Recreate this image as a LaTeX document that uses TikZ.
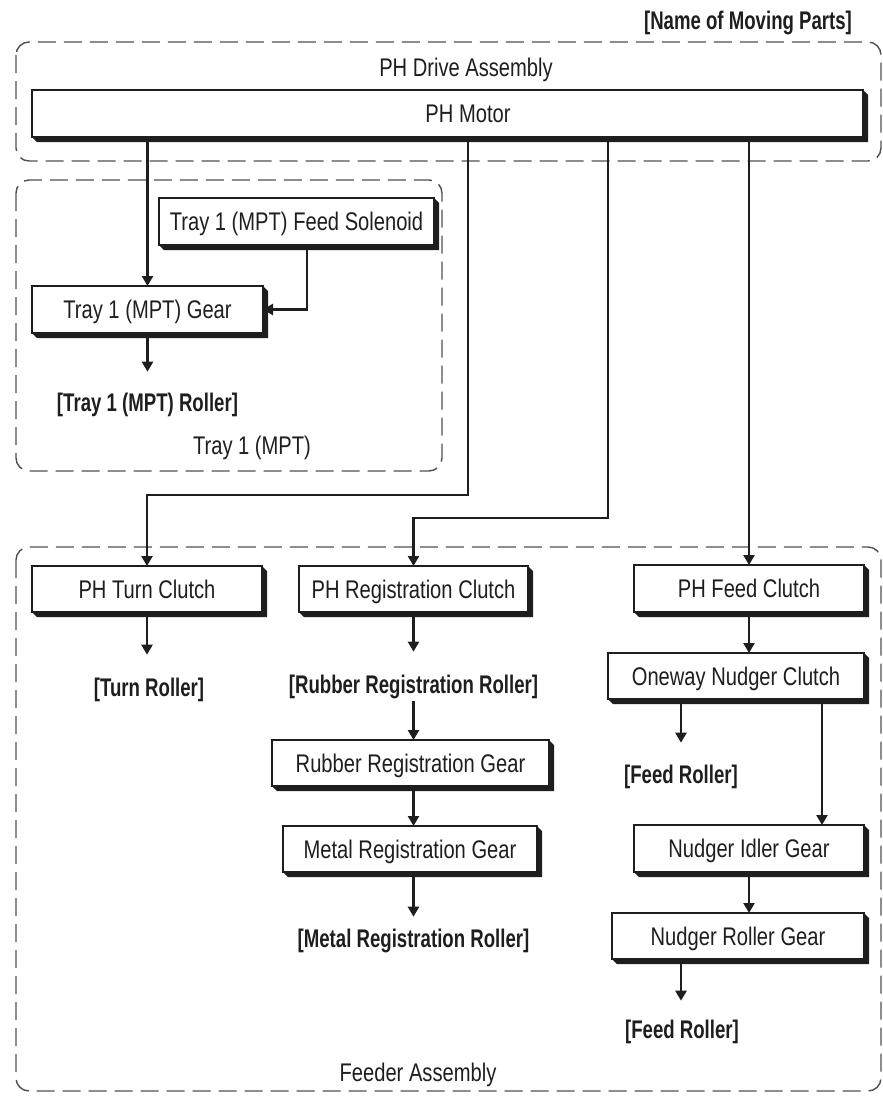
\documentclass[tikz,border=0pt]{standalone}
\usepackage{fontspec}
\setmainfont{Liberation Sans}[FakeStretch=0.79]
\newfontfamily\labelfont{Liberation Sans}[FakeStretch=0.73]
\usetikzlibrary{arrows.meta}

\definecolor{ink}{HTML}{1E1E1E}
\definecolor{dashgrey}{HTML}{505050}

\begin{document}
\begin{tikzpicture}[x=1pt,y=-1pt,
  every node/.style={text=ink},
  txt/.style={font=\fontsize{25.5}{30}\selectfont, inner sep=0pt, text height=18.2pt, text depth=0pt},
  part/.style={txt, draw=ink, line width=1.4pt, fill=white, outer sep=0pt},
  lbl/.style={font=\labelfont\bfseries\fontsize{25.5}{30}\selectfont, inner sep=0pt, text height=18.2pt, text depth=0pt},
  assembly/.style={draw=dashgrey, line width=1.4pt, dash pattern=on 18pt off 8pt, rounded corners=13pt},
  conn/.style={draw=ink, line width=2.4pt, -{Triangle[length=10pt,width=11pt]}},
]
\useasboundingbox (0,0) rectangle (883,1098);

% heading
\node[lbl] (title) at (748,20) {[Name of Moving Parts]};

% drive assembly
\node[txt] (drivelbl) at (466,67) {PH Drive Assembly};
\node[part, minimum width=831pt, minimum height=47pt] (motor) at (447.5,113.5) {\hspace*{41pt}PH Motor};

% tray 1 (MPT)
\node[part, minimum width=275pt, minimum height=47pt] (sol) at (296.5,221.5) {Tray 1 (MPT) Feed Solenoid};
\node[part, minimum width=231pt, minimum height=47pt] (gear) at (147.5,309.5) {Tray 1 (MPT) Gear};
\node[lbl] (l1) at (147.5,402) {[Tray 1 (MPT) Roller]};
\node[txt] (traylbl) at (252,445) {Tray 1 (MPT)};

% feeder assembly
\node[part, minimum width=230pt, minimum height=46pt] (turn) at (147,589) {PH Turn Clutch};
\node[part, minimum width=229pt, minimum height=46pt] (reg) at (413.5,589) {PH Registration Clutch};
\node[part, minimum width=230pt, minimum height=47pt] (feed) at (749,588.5) {PH Feed Clutch};
\node[part, minimum width=256pt, minimum height=46pt] (oneway) at (736,676) {Oneway Nudger Clutch};
\node[part, minimum width=277pt, minimum height=46pt] (rubgear) at (410.5,763) {Rubber Registration Gear};
\node[part, minimum width=254pt, minimum height=46pt] (metgear) at (410,849) {Metal Registration Gear};
\node[part, minimum width=230pt, minimum height=47pt] (idler) at (749,848.5) {Nudger Idler Gear};
\node[part, minimum width=252pt, minimum height=46pt] (nrg) at (738,936) {Nudger Roller Gear};

\node[lbl] (l2) at (149,687) {[Turn Roller]};
\node[lbl] (l3) at (413.5,684) {[Rubber Registration Roller]};
\node[lbl] (l4) at (413.5,938) {[Metal Registration Roller]};
\node[lbl] (l5) at (681,774) {[Feed Roller]};
\node[lbl] (l6) at (682,1029) {[Feed Roller]};
\node[txt] (feederlbl) at (418,1072) {Feeder Assembly};

% bevelled drop shadows of the part boxes
\foreach \n in {motor,sol,gear,turn,reg,feed,oneway,rubgear,metgear,idler,nrg}{
  \fill[ink] (\n.north east) -- ([shift={(5,5)}]\n.north east)
    -- ([shift={(5,5)}]\n.south east) -- ([shift={(5,5)}]\n.south west)
    -- (\n.south west) -- (\n.south east) -- cycle;
}

% assembly outlines
\draw[assembly] (16,42) rectangle (881,161);
\draw[assembly] (16,180) rectangle (442,471);
\draw[assembly] (16,547) rectangle (881,1091);

% bend points of the drive lines
\coordinate (tb) at (468,495);
\coordinate (rb) at (608,518);
\coordinate (sb) at (307,308);
\coordinate (ib) at (822,0);

% drive lines
\draw[conn] (motor.south -| gear.north) -- (gear.north);
\draw[conn] (motor.south -| tb) -- (tb) -| (turn.north);
\draw[conn] (motor.south -| rb) -- (rb) -| (reg.north);
\draw[conn] (motor.south -| feed.north) -- (feed.north);
\draw[conn] (sol.south -| sb) |- (gear.east);
\draw[conn, shorten >=21pt] (gear.south) -- (l1.north);

\draw[conn, shorten >=23pt] (turn.south) -- (turn.south |- l2.north);
\draw[conn, shorten >=23pt] (reg.south) -- (l3.north);
\draw[conn, shorten <=8pt] (l3.south) -- (rubgear.north -| l3.south);
\draw[conn] (rubgear.south -| l3.south) -- (metgear.north -| l3.south);
\draw[conn, shorten >=12pt] (metgear.south -| l4.north) -- (l4.north);

\draw[conn] (feed.south) -- (oneway.north -| feed.south);
\draw[conn, shorten >=22pt] (oneway.south -| l5.north) -- (l5.north);
\draw[conn] (oneway.south -| ib) -- (idler.north -| ib);
\draw[conn] (idler.south) -- (nrg.north -| idler.south);
\draw[conn, shorten >=19pt] (nrg.south -| l5.north) -- (l5.north |- l6.north);
\end{tikzpicture}
\end{document}
